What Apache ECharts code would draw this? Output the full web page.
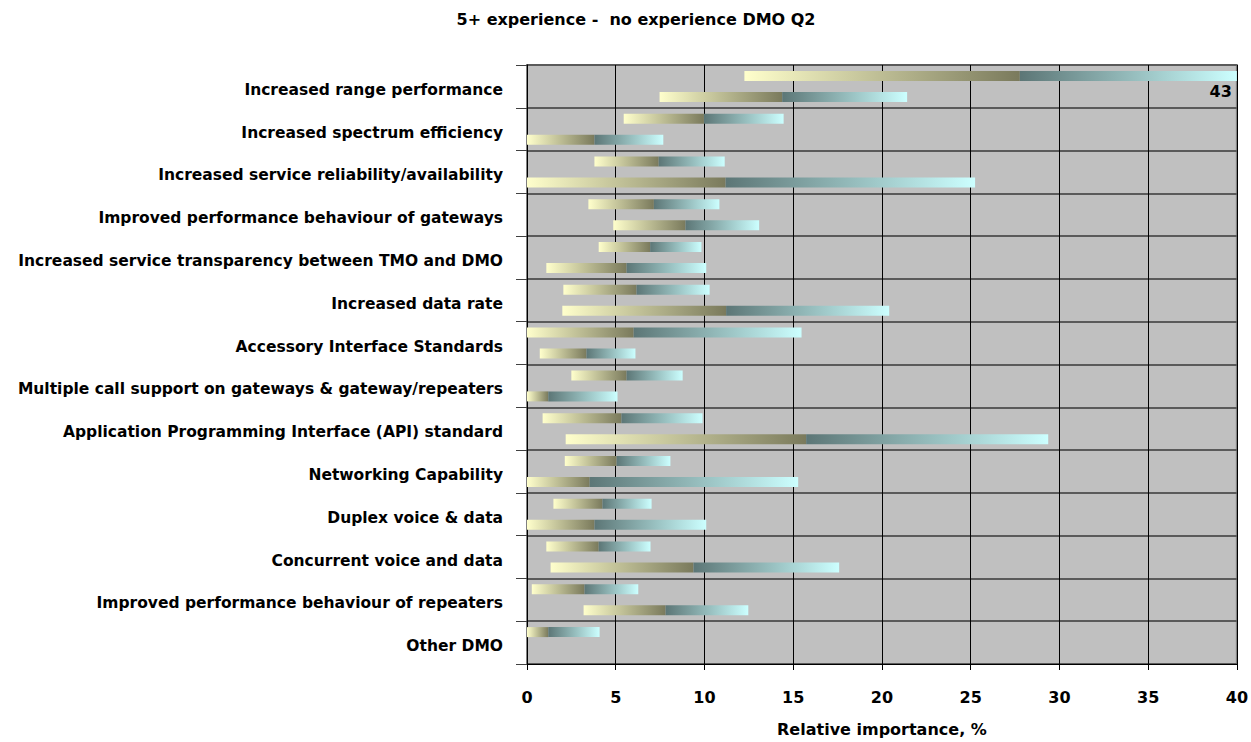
<!DOCTYPE html>
<html>
<head>
<meta charset="utf-8">
<script src="https://cdn.jsdelivr.net/npm/echarts@6/dist/echarts.min.js"></script>
<style>
html,body{margin:0;padding:0;background:#fff;}
#chart{width:1251px;height:742px;}
</style>
</head>
<body>
<div id="chart"></div>
<script>
const titleText = '5+ experience -  no experience DMO Q2';
const axisName = 'Relative importance, %';
const categories = [
  'Increased range performance',
  'Increased spectrum efficiency',
  'Increased service reliability/availability',
  'Improved performance behaviour of gateways',
  'Increased service transparency between TMO and DMO',
  'Increased data rate',
  'Accessory Interface Standards',
  'Multiple call support on gateways & gateway/repeaters',
  'Application Programming Interface (API) standard',
  'Networking Capability',
  'Duplex voice & data',
  'Concurrent voice and data',
  'Improved performance behaviour of repeaters',
  'Other DMO'
];
const xTicks = [0, 5, 10, 15, 20, 25, 30, 35, 40];

// upper bar of each category: start, middle (colour change), end
const upperStart = [12.25, 5.45, 3.80, 3.46, 4.04, 2.05, 0, 2.50, 0.88, 2.13, 1.49, 1.09, 0.27, 0];
const upperMid   = [27.77, 9.97, 7.42, 7.15, 6.94, 6.17, 6.01, 5.61, 5.32, 5.05, 4.25, 4.04, 3.24, 1.20];
const upperEnd   = [43, 14.46, 11.14, 10.84, 9.83, 10.29, 15.47, 8.77, 9.89, 8.08, 7.02, 6.96, 6.27, 4.09];

// lower bar of each category
const lowerStart = [7.47, 0, 0, 4.86, 1.09, 1.99, 0.72, 0, 2.18, 0, 0, 1.33, 3.19, null];
const lowerMid   = [14.38, 3.80, 11.19, 8.93, 5.61, 11.22, 3.35, 1.20, 15.73, 3.53, 3.80, 9.38, 7.81, null];
const lowerEnd   = [21.42, 7.68, 25.25, 13.08, 10.10, 20.41, 6.11, 5.10, 29.37, 15.28, 10.10, 17.59, 12.47, null];

const diff = (a, b) => a.map((v, i) => (v == null || b[i] == null) ? null : +(v - b[i]).toFixed(3));

const chart = echarts.init(document.getElementById('chart'), null, {renderer: 'svg'});

function grad1() {
  return new echarts.graphic.LinearGradient(0, 0, 1, 0, [
    {offset: 0, color: '#FFFFCC'},
    {offset: 1, color: '#7A7A5C'}
  ]);
}
function grad2() {
  return new echarts.graphic.LinearGradient(0, 0, 1, 0, [
    {offset: 0, color: '#5C7676'},
    {offset: 1, color: '#CCFFFF'}
  ]);
}

const font = '"DejaVu Sans", Verdana, sans-serif';
const BW = 10;
function makeStack(stack, start, mid, end, labelFirst) {
  const seg2 = diff(end, mid);
  const seg2Data = seg2.map((v, i) => {
    if (labelFirst && i === 0 && end[i] > 40) {
      return {
        value: v,
        label: {
          show: true,
          position: 'insideBottomRight',
          offset: [0, 24],
          formatter: String(end[i]),
          color: '#000',
          fontFamily: font,
          fontWeight: 'bold',
          fontSize: 16
        }
      };
    }
    return v;
  });
  return [
    {type: 'bar', stack: stack, barWidth: BW, barGap: '110%', data: start,
     itemStyle: {color: 'transparent'}, silent: true},
    {type: 'bar', stack: stack, barWidth: BW, barGap: '110%', data: diff(mid, start),
     itemStyle: {color: grad1()}},
    {type: 'bar', stack: stack, barWidth: BW, barGap: '110%', data: seg2Data,
     itemStyle: {color: grad2()}}
  ];
}

chart.setOption({
  animation: false,
  backgroundColor: '#ffffff',
  title: {
    text: titleText,
    left: 631,
    textAlign: 'center',
    top: 6,
    textStyle: {fontFamily: font, fontWeight: 'bold', fontSize: 16, color: '#000'}
  },
  grid: {
    left: 527, right: 13, top: 65, bottom: 74,
    show: true, backgroundColor: '#C0C0C0', borderColor: '#808080', borderWidth: 2,
    containLabel: false
  },
  xAxis: {
    type: 'value', min: 0, max: 40, interval: 5,
    name: axisName, nameLocation: 'middle', nameGap: 57,
    nameTextStyle: {fontFamily: font, fontWeight: 'bold', fontSize: 16, color: '#000'},
    axisLine: {show: true, lineStyle: {color: '#000', width: 1}},
    axisTick: {show: true, length: 6, lineStyle: {color: '#000'}},
    axisLabel: {fontFamily: font, fontWeight: 'bold', fontSize: 16, color: '#000', margin: 25,
      formatter: v => xTicks.includes(v) ? String(v) : ''},
    splitLine: {show: true, lineStyle: {color: '#000', width: 1}}
  },
  yAxis: {
    type: 'category', data: categories, inverse: true,
    axisLine: {show: true, lineStyle: {color: '#000', width: 1}},
    axisTick: {show: true, length: 11, lineStyle: {color: '#404040', width: 1}},
    axisLabel: {
      color: '#000', margin: 24,
      formatter: v => '{c|' + v + '}',
      rich: {c: {fontFamily: font, fontWeight: 'bold', fontSize: 15.5, color: '#000',
                 padding: [7, 0, 0, 0]}}
    },
    splitLine: {show: true, lineStyle: {color: '#5a5a5a', width: 2}}
  },
  series: [
    ...makeStack('upper', upperStart, upperMid, upperEnd, true),
    ...makeStack('lower', lowerStart, lowerMid, lowerEnd, false)
  ]
});
</script>
</body>
</html>
